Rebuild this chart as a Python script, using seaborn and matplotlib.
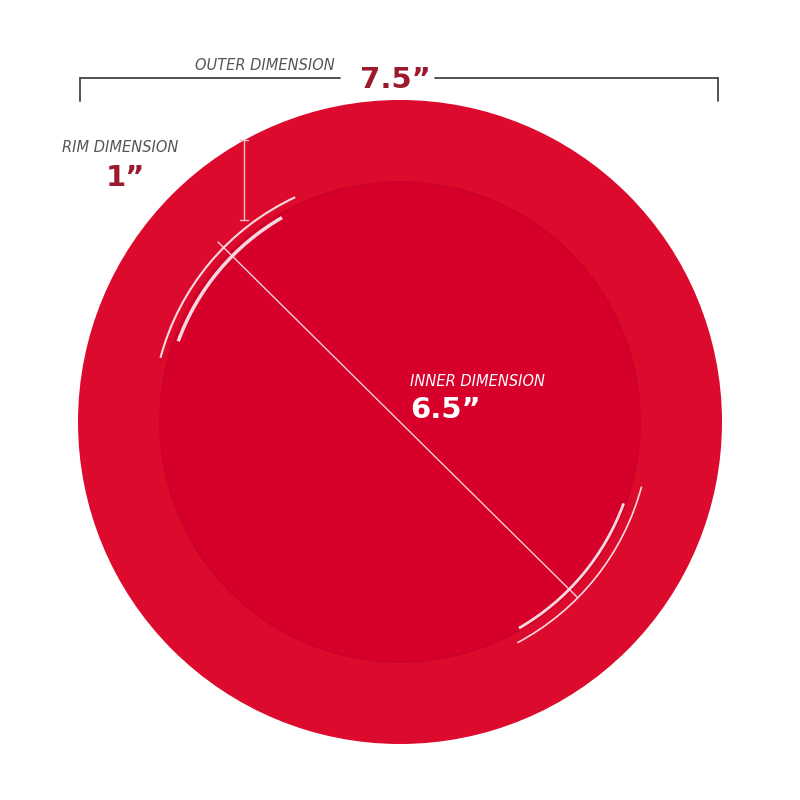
import matplotlib
matplotlib.use("Agg")
import matplotlib.pyplot as plt
import seaborn as sns
from matplotlib.patches import Circle, Arc

sns.set_theme(style="white")
plt.rcParams['font.family'] = ['DejaVu Sans']

labels = ["OUTER DIMENSION", "RIM DIMENSION", "INNER DIMENSION"]
values = ["7.5”", "1”", "6.5”"]
dims = [7.5, 1.0, 6.5]

fig = plt.figure(figsize=(8, 8), dpi=100)
ax = fig.add_axes([0, 0, 1, 1])
ax.set_xlim(0, 800); ax.set_ylim(800, 0); ax.axis("off")

cx, cy, R = 400, 422, 322
ax.add_patch(Circle((cx, cy), R, color="#dc0a2c", zorder=1, lw=0))
ri = R * dims[2] / dims[0] * 0.86
ax.add_patch(Circle((cx, cy), ri, color="#d6002a", zorder=2, lw=0))
ax.add_patch(Circle((cx, cy), ri, fill=False, ec="#c80028", lw=1.5, alpha=0.6, zorder=2))
# highlights (y axis inverted: 180-270 = upper-left, 0-90 = lower-right)
for r, a1, a2, w in [(236, 200, 240, 2.5), (248, 195, 245, 1.5), (238, 20, 60, 2), (250, 15, 62, 1.2)]:
    ax.add_patch(Arc((cx, cy), 2 * r, 2 * r, theta1=a1, theta2=a2, color="white", lw=w, alpha=0.85, zorder=3))

# outer dimension
ax.plot([80, 340], [78, 78], color="#444", lw=1.3)
ax.plot([435, 718], [78, 78], color="#444", lw=1.3)
ax.plot([80, 80], [78, 101], color="#444", lw=1.3)
ax.plot([718, 718], [78, 101], color="#444", lw=1.3)
ax.text(265, 66, labels[0], color="#555", fontsize=10.5, style="italic", ha="center", va="center")
ax.text(395, 80, values[0], color="#9b1b2c", fontsize=21, fontweight="bold", ha="center", va="center")

# rim dimension
ax.text(120, 148, labels[1], color="#555", fontsize=10.5, style="italic", ha="center", va="center")
ax.text(125, 178, values[1], color="#9b1b2c", fontsize=21, fontweight="bold", ha="center", va="center")
ax.plot([244, 244], [140, 220], color="#f0c0c8", lw=1, zorder=4)
ax.plot([240, 248], [140, 140], color="#f0c0c8", lw=1, zorder=4)
ax.plot([240, 248], [220, 220], color="#f0c0c8", lw=1, zorder=4)

# inner dimension
ax.plot([218, 578], [242, 598], color="#f5d0d6", lw=1, zorder=4)
ax.text(410, 382, labels[2], color="white", fontsize=10.5, style="italic", ha="left", va="center", zorder=5)
ax.text(410, 410, values[2], color="white", fontsize=21, fontweight="bold", ha="left", va="center", zorder=5)

fig.savefig("out.png", dpi=100, facecolor="white")
